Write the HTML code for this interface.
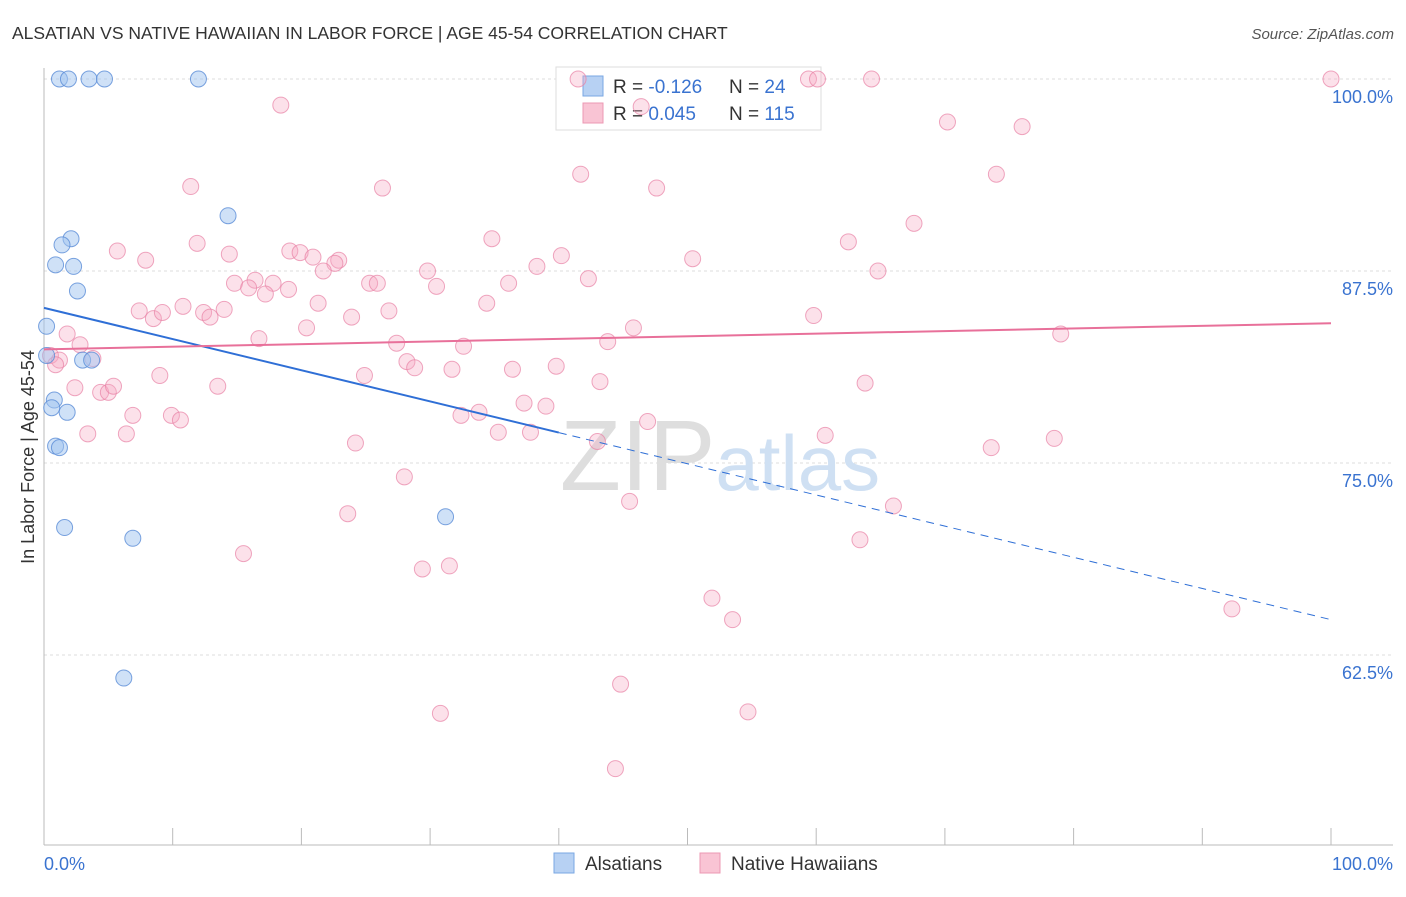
<!DOCTYPE html>
<html><head><meta charset="utf-8"><style>
body{margin:0;background:#fff;font-family:"Liberation Sans",sans-serif;}
svg text{font-family:"Liberation Sans",sans-serif;}
</style></head><body>
<svg id="chart" width="1406" height="892">
<text x="12" y="39" font-size="17.5" fill="#333">ALSATIAN VS NATIVE HAWAIIAN IN LABOR FORCE | AGE 45-54 CORRELATION CHART</text>
<text x="1394" y="39" font-size="15" fill="#555" text-anchor="end" font-style="italic">Source: ZipAtlas.com</text>
<text x="34" y="457" font-size="18" fill="#333" text-anchor="middle" transform="rotate(-90 34 457)">In Labor Force | Age 45-54</text>
<g id="grid"></g>
<text x="720" y="490" font-size="100" fill="#e4e4e4" text-anchor="middle" font-family="Liberation Serif"><tspan fill="#dedede">ZIP</tspan><tspan fill="#cfe0f3" font-family="Liberation Sans" font-size="78">atlas</tspan></text>
<g>
<rect x="556" y="67" width="265" height="63" fill="#fff" stroke="#ddd"/>
<rect x="583" y="76" width="20" height="20" fill="#b7d1f3" stroke="#7aa7e3"/>
<rect x="583" y="103" width="20" height="20" fill="#f9c4d4" stroke="#ec98b3"/>
<text x="613" y="93" font-size="19" fill="#333">R = <tspan fill="#3a73d0">-0.126</tspan></text>
<text x="729" y="93" font-size="19" fill="#333">N = <tspan fill="#3a73d0"> 24</tspan></text>
<text x="613" y="120" font-size="19" fill="#333">R = <tspan fill="#3a73d0"> 0.045</tspan></text>
<text x="729" y="120" font-size="19" fill="#333">N = <tspan fill="#3a73d0">115</tspan></text>
</g>
<g id="marks"></g>
<g id="lines"></g>
<g>
<rect x="554" y="853" width="20" height="20" fill="#b7d1f3" stroke="#7aa7e3"/>
<text x="585" y="870" font-size="19" fill="#333">Alsatians</text>
<rect x="700" y="853" width="20" height="20" fill="#f9c4d4" stroke="#ec98b3"/>
<text x="731" y="870" font-size="19" fill="#333">Native Hawaiians</text>
</g>
</svg>
<script>
const yTicks=[100,87.5,75,62.5];
const yTickLabels=["100.0%","87.5%","75.0%","62.5%"];
const xTickLabels=["0.0%","100.0%"];
const blueX=[1.2,1.9,3.5,4.7,12.0,14.3,2.1,1.4,0.9,2.3,2.6,0.2,3.0,3.7,0.8,0.6,1.8,0.9,1.2,1.6,6.9,31.2,6.2,0.2];
const blueY=[100,100,100,100,100,91.1,89.6,89.2,87.9,87.8,86.2,83.9,81.7,81.7,79.1,78.6,78.3,76.1,76.0,70.8,70.1,71.5,61.0,82.0];
const pinkX=[41.5,59.4,60.1,64.3,100,46.4,18.4,70.2,76.0,11.4,26.3,47.6,41.7,74.0,67.6,5.7,7.9,11.9,14.4,19.1,19.9,20.9,22.9,22.6,21.7,34.8,40.2,38.3,29.8,42.3,36.1,30.5,50.4,62.5,64.8,14.8,16.4,17.8,17.2,15.9,19.0,25.3,25.9,7.4,8.5,9.2,10.8,12.4,12.9,14.0,21.3,23.9,26.8,34.4,20.4,1.8,2.8,16.7,27.4,32.6,43.8,45.8,59.8,79.0,0.5,1.2,0.9,3.8,28.2,28.8,31.7,36.4,39.8,24.9,9.0,2.4,4.4,5.0,5.4,13.5,43.2,63.8,37.3,39.0,6.9,9.9,10.6,32.4,33.8,46.9,3.4,6.4,35.3,37.8,43.0,60.7,24.2,73.6,78.5,28.0,45.5,66.0,23.6,15.5,63.4,29.4,31.5,51.9,92.3,53.5,44.8,30.8,54.7,44.4];
const pinkY=[100,100,100,100,100,98.2,98.3,97.2,96.9,93.0,92.9,92.9,93.8,93.8,90.6,88.8,88.2,89.3,88.6,88.8,88.7,88.4,88.2,88.0,87.5,89.6,88.5,87.8,87.5,87.0,86.7,86.5,88.3,89.4,87.5,86.7,86.9,86.7,86.0,86.4,86.3,86.7,86.7,84.9,84.4,84.8,85.2,84.8,84.5,85.0,85.4,84.5,84.9,85.4,83.8,83.4,82.7,83.1,82.8,82.6,82.9,83.8,84.6,83.4,82.0,81.7,81.4,81.8,81.6,81.2,81.1,81.1,81.3,80.7,80.7,79.9,79.6,79.6,80.0,80.0,80.3,80.2,78.9,78.7,78.1,78.1,77.8,78.1,78.3,77.7,76.9,76.9,77.0,77.0,76.4,76.8,76.3,76.0,76.6,74.1,72.5,72.2,71.7,69.1,70.0,68.1,68.3,66.2,65.5,64.8,60.6,58.7,58.8,55.1];
const blueTrend=[85.1,64.8];
const blueSolidEnd=40;
const pinkTrend=[82.4,84.1];

const NS="http://www.w3.org/2000/svg";
const sx=v=>44+v*12.87;
const sy=v=>79+(100-v)*15.36;
function mk(tag,at,parent){const e=document.createElementNS(NS,tag);for(const k in at)e.setAttribute(k,at[k]);parent.appendChild(e);return e;}
const grid=document.getElementById('grid');
yTicks.forEach((t,i)=>{
  const l=mk('line',{x1:44,x2:1393,y1:sy(t),y2:sy(t),stroke:'#ddd','stroke-dasharray':'3,3'},grid);
  
  
  const tx=mk('text',{x:1393,y:sy(t)+24,'font-size':18,fill:'#3a73d0','text-anchor':'end'},grid);
  tx.textContent=yTickLabels[i];
  
  
});
const ax=mk('line',{x1:44,x2:1393,y1:845,y2:845,stroke:'#bbb'},grid);


const ay=mk('line',{x1:44,x2:44,y1:68,y2:845,stroke:'#bbb'},grid);


for(let i=0;i<=10;i++){
  const t=mk('line',{x1:sx(i*10),x2:sx(i*10),y1:845,y2:828,stroke:'#bbb'},grid);
  
  
}
[[0,'start',44],[100,'end',1393]].forEach((d,i)=>{
  const t=mk('text',{x:d[2],y:870,'font-size':18,fill:'#3a73d0','text-anchor':d[1]},grid);
  t.textContent=xTickLabels[i];
  
  
});
const marks=document.getElementById('marks');
pinkX.forEach((x,i)=>{
  const c=mk('circle',{cx:sx(x),cy:sy(pinkY[i]),r:8,fill:'rgba(247,170,195,0.35)',stroke:'rgba(232,130,165,0.7)','stroke-width':1},marks);
  
  
});
blueX.forEach((x,i)=>{
  const c=mk('circle',{cx:sx(x),cy:sy(blueY[i]),r:8,fill:'rgba(160,196,240,0.5)',stroke:'rgba(90,140,215,0.8)','stroke-width':1},marks);
  
  
});
const lines=document.getElementById('lines');
const by=x=>blueTrend[0]+(blueTrend[1]-blueTrend[0])*x/100;
const l1=mk('line',{x1:sx(0),y1:sy(by(0)),x2:sx(blueSolidEnd),y2:sy(by(blueSolidEnd)),stroke:'#2f6fd6','stroke-width':2},lines);


const l2=mk('line',{x1:sx(blueSolidEnd),y1:sy(by(blueSolidEnd)),x2:sx(100),y2:sy(by(100)),stroke:'#2f6fd6','stroke-width':1,'stroke-dasharray':'8,6'},lines);


const l3=mk('line',{x1:sx(0),y1:sy(pinkTrend[0]),x2:sx(100),y2:sy(pinkTrend[1]),stroke:'#e8709a','stroke-width':2},lines);


</script>
</body></html>
